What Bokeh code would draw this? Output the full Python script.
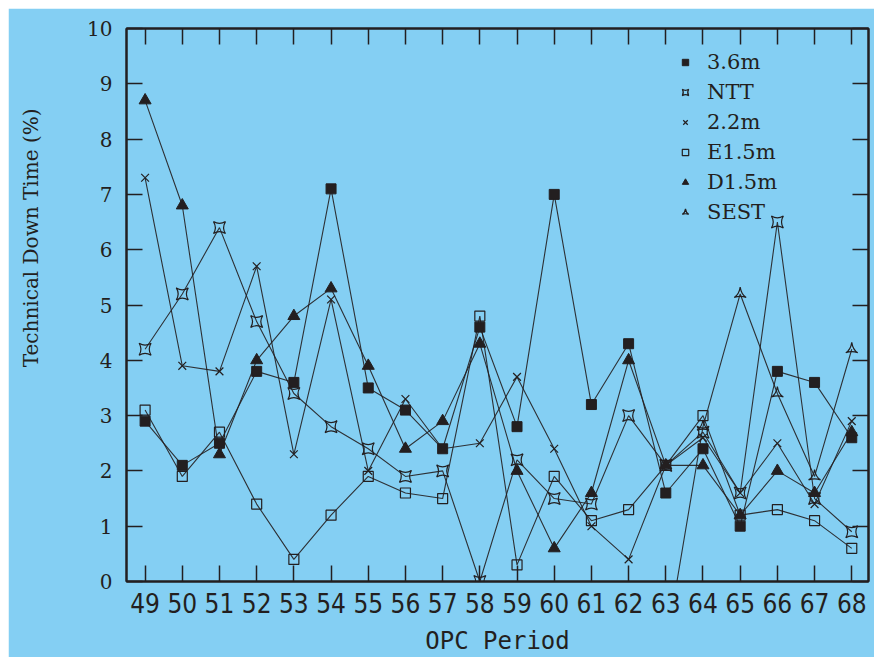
import numpy as np
from bokeh.plotting import figure
from bokeh.models import LinearAxis, Range1d, Legend, LegendItem, FixedTicker, Title
from bokeh.embed import file_html
from bokeh.resources import INLINE

periods = list(range(49, 69))
tel_36 = [2.9, 2.1, 2.5, 3.8, 3.6, 7.1, 3.5, 3.1, 2.4, 4.6, 2.8, 7.0, 3.2, 4.3, 1.6, 2.4, 1.0, 3.8, 3.6, 2.6]
tel_ntt = [4.2, 5.2, 6.4, 4.7, 3.4, 2.8, 2.4, 1.9, 2.0, 0.0, 2.2, 1.5, 1.4, 3.0, 2.1, 2.7, 1.6, 6.5, 1.5, 0.9]
tel_22 = [7.3, 3.9, 3.8, 5.7, 2.3, 5.1, 2.0, 3.3, 2.4, 2.5, 3.7, 2.4, 1.0, 0.4, 2.1, 2.6, 1.6, 2.5, 1.4, 2.9]
tel_e15 = [3.1, 1.9, 2.7, 1.4, 0.4, 1.2, 1.9, 1.6, 1.5, 4.8, 0.3, 1.9, 1.1, 1.3, 2.1, 3.0, 1.2, 1.3, 1.1, 0.6]
tel_d15 = [8.7, 6.8, 2.3, 4.0, 4.8, 5.3, 3.9, 2.4, 2.9, 4.3, 2.0, 0.6, 1.6, 4.0, 2.1, 2.1, 1.2, 2.0, 1.6, 2.7]
tel_sest = [None] * 14 + [-1.2, 2.8, 5.2, 3.4, 1.9, 4.2]
names = ["3.6m", "NTT", "2.2m", "E1.5m", "D1.5m", "SEST"]
x_title = "OPC Period"
y_title = "Technical Down Time (%)"

BG = "#84CFF3"
INK = "#231f20"
SERIF = "DejaVu Serif"
NARROW = "'Liberation Sans Narrow', 'DejaVu Sans Condensed', sans-serif"

p = figure(width=866, height=649, output_backend="svg", toolbar_location=None,
           x_range=Range1d(48.5, 68.45), y_range=Range1d(0, 10),
           min_border_left=118, min_border_right=6, min_border_top=20, min_border_bottom=76)
p.margin = (8, 8, 0, 8)
p.background_fill_color = BG
p.border_fill_color = BG
p.outline_line_color = INK
p.outline_line_width = 2
p.grid.visible = False

def style_axis(ax, labels=True):
    ax.major_tick_in = 16
    ax.major_tick_out = 0
    ax.minor_tick_line_color = None
    ax.axis_line_color = INK
    ax.axis_line_width = 2
    ax.major_tick_line_color = INK
    ax.major_tick_line_width = 1.5
    if not labels:
        ax.major_label_text_color = None
        ax.major_label_standoff = 0

xt = FixedTicker(ticks=periods)
yt = FixedTicker(ticks=list(range(0, 11)))
xax = p.xaxis[0]
yax = p.yaxis[0]
xax.ticker = xt
yax.ticker = yt
style_axis(xax)
style_axis(yax)
xax.major_label_text_font = NARROW
xax.major_label_text_font_size = "26px"
xax.major_label_text_color = INK
xax.major_label_standoff = 11
yax.major_label_text_font = SERIF
yax.major_label_text_font_size = "20px"
yax.major_label_text_color = INK
yax.major_label_standoff = 14
xax.axis_label = x_title
xax.axis_label_text_font = "DejaVu Sans Mono"
xax.axis_label_text_font_style = "normal"
xax.axis_label_text_font_size = "24px"
xax.axis_label_text_color = INK
xax.axis_label_standoff = 11

# hidden copy of the y title on the left axis reserves room, pushing the visible title outward
yax.axis_label = y_title
yax.axis_label_text_color = None
yax.axis_label_text_font = SERIF
yax.axis_label_text_font_size = "20px"
yax.axis_label_standoff = 10

ra = LinearAxis(ticker=yt)
style_axis(ra, labels=False)
p.add_layout(ra, "right")
ta = LinearAxis(ticker=xt)
style_axis(ta, labels=False)
p.add_layout(ta, "above")

ytitle = Title(text=y_title, align="right", offset=80, standoff=10,
               text_font=SERIF, text_font_size="20px", text_font_style="normal",
               text_color=INK)
p.add_layout(ytitle, "left")

series = [tel_36, tel_ntt, tel_22, tel_e15, tel_d15, tel_sest]
markers = [
    dict(marker="square", size=10, fill_color=INK, line_color=INK),
    dict(marker="square_pin", size=12, fill_color=None, line_color=INK, line_width=1.2),
    dict(marker="x", size=11, line_color=INK, line_width=1.2),
    dict(marker="square", size=10, fill_color=None, line_color=INK, line_width=1.2),
    dict(marker="triangle", size=12, fill_color=INK, line_color=INK),
    dict(marker="triangle_pin", size=12, fill_color=None, line_color=INK, line_width=1.2),
]

items = []
for name, vals, mk in zip(names, series, markers):
    y = np.array([np.nan if v is None else v for v in vals], dtype=float)
    x = np.array(periods, dtype=float)
    p.line(x, y, line_color=INK, line_width=1.1, line_alpha=0.9)
    r = p.scatter(x, y, **mk)
    items.append(LegendItem(label=name, renderers=[r]))

legend = Legend(items=items, location=(551, 357))
legend.background_fill_alpha = 0
legend.border_line_color = None
legend.padding = 0
legend.margin = 0
legend.spacing = 6
legend.glyph_width = 16
legend.glyph_height = 16
legend.label_standoff = 14
legend.label_text_font = SERIF
legend.label_text_font_size = "21px"
legend.label_text_color = INK
legend.label_height = 20
p.add_layout(legend, "center")

open("out.html", "w").write(file_html(p, INLINE))
